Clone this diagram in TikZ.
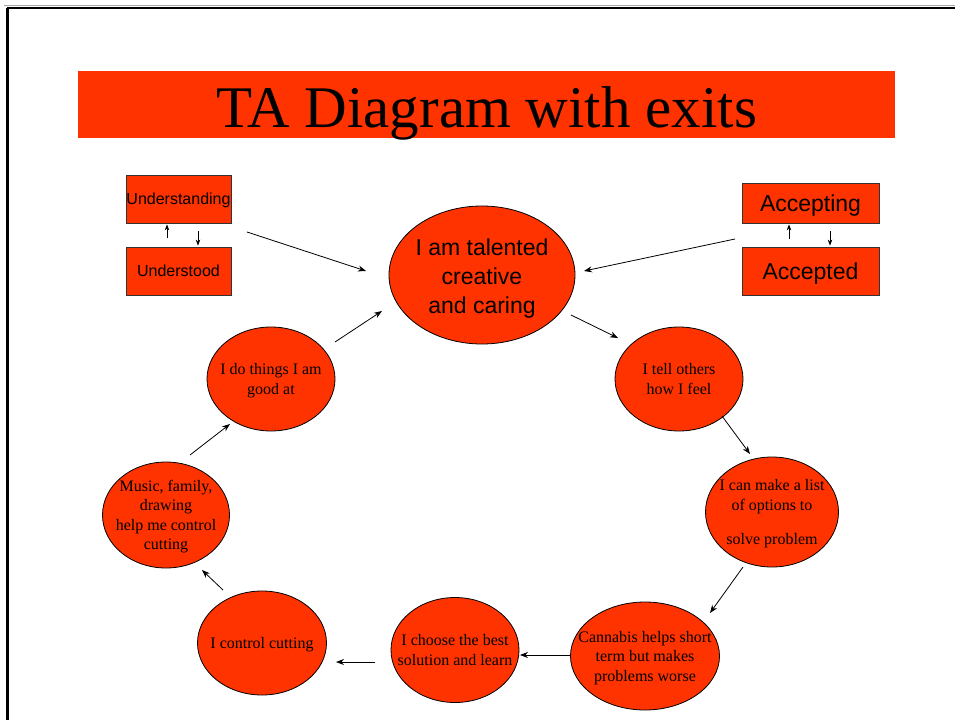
\documentclass[tikz,border=0pt]{standalone}
\usepackage{fontspec}
\setmainfont{Liberation Serif}
\newfontfamily\arialfont{Liberation Sans}
\usetikzlibrary{shapes.geometric,calc,arrows.meta}
\definecolor{tared}{RGB}{255,51,0}
\tikzset{
  % a negative inner sep keeps the ellipse at its minimum size whatever the text
  bubble/.style={ellipse, draw=black, line width=0.8pt, fill=tared, inner sep=-40pt,
    align=center, text depth=0pt, font=\fontsize{16}{19.5}\selectfont},
  statebox/.style={rectangle, draw=black!80, line width=0.8pt, fill=tared, inner sep=0pt,
    align=center, text depth=0pt},
  smallbox/.style={statebox, minimum width=105pt, minimum height=48pt, text height=11.5pt,
    font=\arialfont\fontsize{16}{19}\selectfont},
  bigbox/.style={statebox, minimum width=137pt, text height=16.5pt,
    font=\arialfont\fontsize{23}{26}\selectfont},
  flow/.style={-{Stealth[length=8pt,width=6pt]}, line width=0.8pt},
  tick/.style={-{Stealth[length=6pt,width=4.5pt]}, line width=0.8pt},
}
\begin{document}
\begin{tikzpicture}[x=1pt,y=-1pt]
\useasboundingbox (0,0) rectangle (955,720);
\fill[white] (0,0) rectangle (955,720);
% slide frame
\draw[black!35, line width=1pt] (4,5.5) -- (955,5.5);
\draw[line width=2.6pt] (7.3,8) -- (955,8);
\draw[line width=2.6pt] (7.3,8) -- (7.3,720);

% title band
\node[fill=tared, minimum width=817pt, minimum height=67pt, inner sep=0pt,
  text height=45pt, text depth=0pt,
  font=\fontsize{59}{62}\selectfont] (title) at (486.5,104.5) {TA Diagram with exits};

% exit boxes
\node[smallbox] (understanding) at (178.5,199) {Understanding};
\node[smallbox] (understood) at (178.5,271) {Understood};
\node[bigbox, minimum height=40pt] (accepting) at (810.5,203) {Accepting};
\node[bigbox, minimum height=48pt] (accepted) at (810.5,271) {Accepted};

% the cycle
\node[bubble, minimum width=186pt, minimum height=138pt,
  label={[align=center, yshift=-4pt, font=\arialfont\fontsize{23}{29}\selectfont]center:{I am talented\\creative\\and caring}}]
  (talent) at (482,275) {};
\node[bubble, minimum width=128pt, minimum height=104pt] (tell) at (679,379) {I tell others\\ how I feel};
\node[bubble, minimum width=133pt, minimum height=110pt] (list) at (772,512)
  {I can make a list\\of options to\\[15pt]solve problem};
\node[bubble, minimum width=149pt, minimum height=108pt] (cannabis) at (645,656)
  {Cannabis helps short\\term but makes\\problems worse};
\node[bubble, minimum width=128pt, minimum height=105pt] (choose) at (455,650)
  {I choose the best\\solution and learn};
\node[bubble, minimum width=129pt, minimum height=104pt] (control) at (262,643) {I control cutting};
\node[bubble, minimum width=127pt, minimum height=106pt] (music) at (166,515)
  {Music, family,\\drawing\\help me control\\cutting};
\node[bubble, minimum width=128pt, minimum height=104pt] (dothings) at (271,379)
  {I do things I am\\good at};

% connectors around the cycle
\draw[flow] ($(talent)+(89,40)$) -- ($(tell)+(-61,-41)$);
\draw[flow] ($(tell)+(43,37)$) -- ($(list)+(-22,-58)$);
\draw[flow] ($(list)+(-29,55)$) -- ($(cannabis)+(65,-43)$);
\draw[flow] ($(cannabis)+(-75,-1)$) -- ($(choose)+(65,5)$);
\draw[flow] ($(choose)+(-80,12)$) -- ($(control)+(74,19)$);
\draw[flow] ($(control)+(-39,-53)$) -- ($(music)+(36,55)$);
\draw[flow] ($(music)+(24,-60)$) -- ($(dothings)+(-41,45)$);
\draw[flow] ($(dothings)+(64,-37)$) -- ($(talent)+(-100,36)$);

% exits into the centre
\draw[flow] ($(understanding)+(68.5,33)$) -- ($(talent)+(-116,-4)$);
\draw[flow] ($(accepting)+(-75.5,36)$) -- ($(talent)+(102,-4)$);

% small two-way ticks between the exit boxes
\draw[tick] ($(understanding.south)+(-11.5,15)$) -- ($(understanding.south)+(-11.5,1)$);
\draw[tick] ($(understanding.south)+(19.5,8)$) -- ($(understood.north)+(19.5,-1)$);
\draw[tick] ($(accepting.south)+(-21.5,16)$) -- ($(accepting.south)+(-21.5,1)$);
\draw[tick] ($(accepting.south)+(19.5,8)$) -- ($(accepted.north)+(19.5,-1)$);
\end{tikzpicture}
\end{document}
